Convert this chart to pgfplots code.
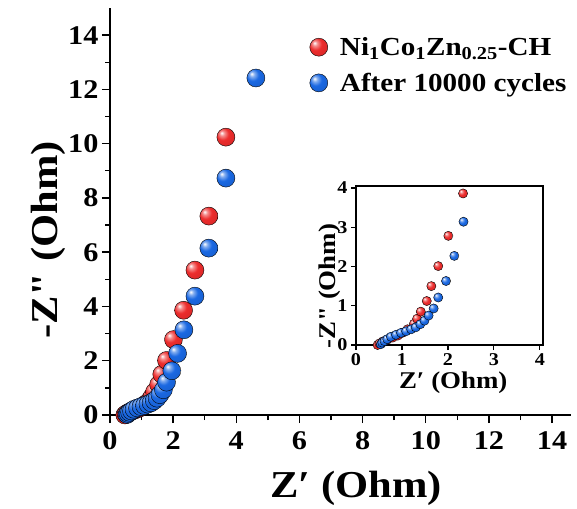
\documentclass[border=0pt]{standalone}
\usepackage{fontspec}
\setmainfont{Liberation Serif}[FakeStretch=1.12, Ligatures=TeXOff]
\usepackage{pgfplots}
\pgfplotsset{compat=1.18}
\definecolor{ballred}{RGB}{236,44,44}
\definecolor{ballblue}{RGB}{26,104,226}

% lighter ball shading than the TikZ default
\makeatletter
\pgfdeclareradialshading[tikz@ball]{ball}{\pgfqpoint{-12bp}{12bp}}{%
  color(0bp)=(tikz@ball!0!white);
  color(7bp)=(tikz@ball!55!white);
  color(17bp)=(tikz@ball);
  color(42bp)=(tikz@ball!88!black);
  color(65bp)=(tikz@ball!70!black)}
\makeatother

\pgfplotstableread{
x y
0.47 0.00
0.51 0.04
0.58 0.09
0.69 0.14
0.80 0.19
0.91 0.24
1.01 0.31
1.12 0.40
1.26 0.54
1.33 0.67
1.41 0.85
1.54 1.12
1.64 1.50
1.79 2.01
2.01 2.78
2.33 3.86
2.69 5.34
3.13 7.33
3.67 10.24
}\fresh

\pgfplotstableread{
x y
0.54 0.02
0.57 0.06
0.62 0.10
0.68 0.15
0.76 0.21
0.87 0.26
0.98 0.31
1.09 0.35
1.20 0.40
1.30 0.45
1.40 0.53
1.49 0.62
1.58 0.75
1.69 0.93
1.79 1.21
1.96 1.63
2.14 2.27
2.34 3.14
2.69 4.38
3.13 6.15
3.67 8.73
4.62 12.42
}\cycled

\begin{document}
\begin{tikzpicture}
\path[use as bounding box] (0,0) rectangle (577pt,508pt);
% main plot
\begin{axis}[
  at={(110pt,93pt)}, anchor=south west,
  scale only axis, width=461pt, height=407pt,
  xmin=0, xmax=14.6, ymin=0, ymax=15,
  axis lines=left, axis line style={-, line width=1.6pt},
  xtick={0,2,...,14}, ytick={0,2,...,14},
  minor x tick num=1, minor y tick num=1,
  tick align=outside, tick style={line width=1.4pt, black},
  major tick length=8pt, minor tick length=5pt,
  /pgf/number format/assume math mode=true,
  ticklabel style={font=\fontsize{27}{27}\selectfont\bfseries},
  xticklabel style={yshift=-5pt},
  xlabel={Z′ (Ohm)}, ylabel={-Z" (Ohm)},
  label style={font=\fontsize{38}{38}\selectfont\bfseries},
  xlabel style={at={(axis description cs:0.534,0)}, anchor=base, yshift=-82pt},
  ylabel style={at={(axis description cs:-0.113,0.43)}, anchor=base},
  legend style={at={(0.426,0.938)}, anchor=north west, draw=none, fill=none,
    font=\fontsize{26}{26}\selectfont\bfseries, row sep=12pt, column sep=10pt,
    legend cell align=left},
]
\addplot[only marks, mark=ball, mark size=9pt, mark options={ball color=ballred}] table {\fresh};
\addlegendentry{Ni\textsubscript{1}Co\textsubscript{1}Zn\textsubscript{0.25}-CH}
\addplot[only marks, mark=ball, mark size=9pt, mark options={ball color=ballblue}] table {\cycled};
\addlegendentry{After 10000 cycles}
\end{axis}
% inset
\begin{axis}[
  at={(356pt,163pt)}, anchor=south west,
  scale only axis, width=187pt, height=159pt,
  xmin=0, xmax=4.07, ymin=0, ymax=4.05,
  axis line style={line width=1.4pt},
  xtick={0,1,...,4}, ytick={0,1,...,4},
  xtick pos=bottom, ytick pos=left,
  tick align=outside, tick style={line width=1.2pt, black},
  major tick length=5pt,
  /pgf/number format/assume math mode=true,
  ticklabel style={font=\fontsize{18}{18}\selectfont\bfseries},
  xlabel={Z′ (Ohm)}, ylabel={-Z" (Ohm)},
  label style={font=\fontsize{24}{24}\selectfont\bfseries},
  xlabel style={at={(axis description cs:0.52,0)}, anchor=base, yshift=-43pt},
  ylabel style={at={(axis description cs:-0.107,0.37)}, anchor=base},
]
\addplot[only marks, mark=ball, mark size=4.6pt, mark options={ball color=ballred}] table {\fresh};
\addplot[only marks, mark=ball, mark size=4.6pt, mark options={ball color=ballblue}] table {\cycled};
\end{axis}
\end{tikzpicture}
\end{document}
